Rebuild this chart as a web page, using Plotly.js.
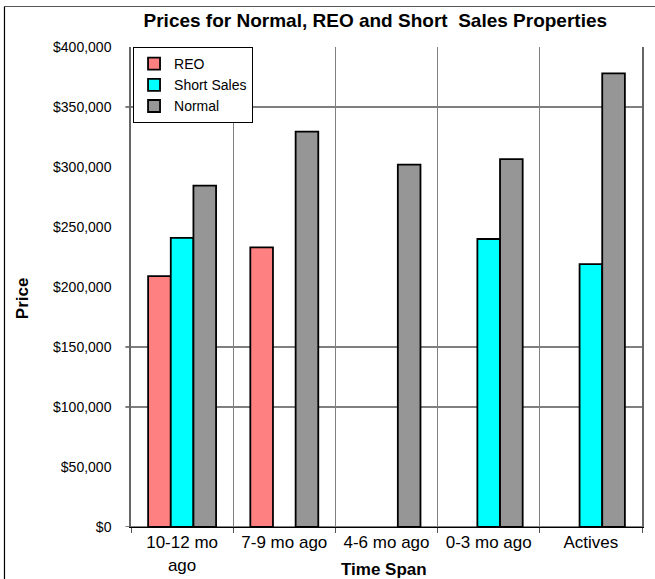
<!DOCTYPE html>
<html>
<head>
<meta charset="utf-8">
<script src="https://cdn.plot.ly/plotly-3.0.1.min.js"></script>
<style>
html, body { margin: 0; padding: 0; background: #fff; }
#chart { width: 655px; height: 579px; }
</style>
</head>
<body>
<div id="chart"></div>
<script>
const categories = ['10-12 mo<br>ago', '7-9 mo ago', '4-6 mo ago', '0-3 mo ago', 'Actives'];
const reo = [209000, 233000, null, null, null];
const shortSales = [241000, null, null, 240000, 219000];
const normal = [284500, 329500, 302000, 306500, 378000];
const gridValues = [0, 100000, 150000, 350000];

const FONT = 'Liberation Sans, Arial, sans-serif';

function barTrace(name, values, color) {
  return {
    type: 'bar',
    name: name,
    x: categories,
    y: values,
    marker: { color: color, line: { color: '#000', width: 1.8 } },
    hoverinfo: 'x+y+name'
  };
}

const data = [
  barTrace('REO', reo, '#FF8080'),
  barTrace('Short Sales', shortSales, '#00FFFF'),
  barTrace('Normal', normal, '#969696')
];

const shapes = gridValues.map(v => ({
  type: 'line', xref: 'paper', yref: 'y',
  x0: -0.011, x1: 1, y0: v, y1: v,
  line: { color: '#000', width: 1.2 }, layer: 'below'
}));
// outer chart-area border (left and top edges)
shapes.push({ type: 'line', xref: 'paper', yref: 'paper', x0: -0.2476, x1: 1.05, y0: 1.0844, y1: 1.0844, line: { color: '#555', width: 1.2 } });
shapes.push({ type: 'line', xref: 'paper', yref: 'paper', x0: -0.2476, x1: -0.2476, y0: 1.0844, y1: -0.2, line: { color: '#000', width: 1.2 } });

const layout = {
  width: 655, height: 579,
  margin: { l: 131, r: 13, t: 47, b: 52 },
  paper_bgcolor: '#fff', plot_bgcolor: '#fff',
  font: { family: FONT, color: '#000', size: 14 },
  title: {
    text: '<b>Prices for Normal, REO and Short  Sales Properties</b>',
    font: { family: FONT, size: 19, color: '#000' },
    xref: 'container', x: 0.573, xanchor: 'center', y: 0.965, yanchor: 'middle'
  },
  barmode: 'group',
  bargap: 0.335,
  bargroupgap: 0,
  showlegend: true,
  legend: {
    x: 0.004, y: 1, xanchor: 'left', yanchor: 'top',
    bgcolor: '#fff', bordercolor: '#000', borderwidth: 1,
    font: { family: FONT, size: 14, color: '#000' },
    itemwidth: 30,
    entrywidth: 105,
    tracegroupgap: 0
  },
  xaxis: {
    type: 'category',
    tickson: 'boundaries',
    ticks: 'outside', ticklen: 5, tickcolor: '#555',
    showgrid: true, gridcolor: '#808080', gridwidth: 1,
    showline: true, linecolor: '#000', linewidth: 1,
    mirror: false,
    tickfont: { family: FONT, size: 17, color: '#000' },
    fixedrange: true
  },
  yaxis: {
    range: [0, 400000],
    dtick: 50000,
    tickprefix: '$',
    tickformat: ',d',
    ticks: '',
    ticklabelstandoff: 15,
    showgrid: false,
    zeroline: false,
    showline: true, linecolor: '#666', linewidth: 1.5,
    mirror: true,
    tickfont: { family: FONT, size: 14, color: '#000' },
    fixedrange: true
  },
  shapes: shapes,
  annotations: [
    {
      text: '<b>Price</b>', xref: 'paper', yref: 'paper',
      x: -0.213, y: 0.477, xanchor: 'center', yanchor: 'middle',
      textangle: -90, showarrow: false,
      font: { family: FONT, size: 17, color: '#000' }
    },
    {
      text: '<b>Time Span</b>', xref: 'paper', yref: 'paper',
      x: 0.495, y: -0.0875, xanchor: 'center', yanchor: 'middle',
      showarrow: false,
      font: { family: FONT, size: 17, color: '#000' }
    }
  ]
};

Plotly.newPlot('chart', data, layout, { displayModeBar: false, staticPlot: false });
</script>
</body>
</html>
